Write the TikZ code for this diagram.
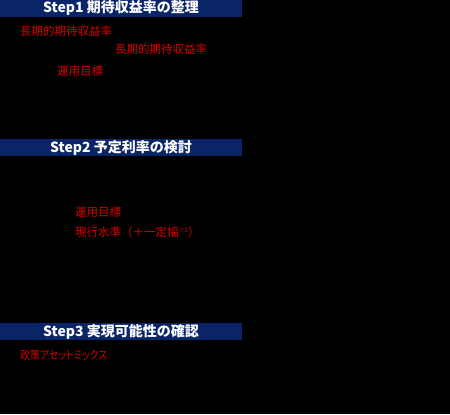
\documentclass[tikz,border=0pt]{standalone}
\usepackage{fontspec}
\newfontfamily\jp{Noto Sans CJK JP}
\newfontfamily\jpp[RawFeature=+palt]{Noto Sans CJK JP}
\definecolor{bannerblue}{RGB}{10,36,104}
\definecolor{textred}{RGB}{215,0,0}
\tikzset{
  banner/.style={fill=bannerblue, draw=none, inner sep=0pt, minimum width=242bp, minimum height=17bp, anchor=north west},
  bannertext/.style={text=white, font=\jp\bfseries\fontsize{14bp}{16bp}\selectfont, inner sep=0pt},
  redlabel/.style={text=textred, font=\jpp\fontsize{11.5bp}{13bp}\selectfont, inner sep=0pt, anchor=west}
}
\begin{document}
\begin{tikzpicture}[x=1bp, y=-1bp]
  \fill[black] (0,0) rectangle (450,414);
  \useasboundingbox (0,0) rectangle (450,414);
  % Step 1
  \node[banner] (b1) at (0,0) {};
  \node[bannertext] (t1) at (121,8) {Step1 期待収益率の整理};
  \node[redlabel] (l1) at (20,31.5) {長期的期待収益率};
  \node[redlabel] (l2) at (115,49.5) {長期的期待収益率};
  \node[redlabel] (l3) at (57,71.5) {運用目標};
  % Step 2
  \node[banner] (b2) at (0,139) {};
  \node[bannertext] (t2) at (121,147.5) {Step2 予定利率の検討};
  \node[redlabel] (l4) at (75,212) {運用目標};
  \node[redlabel, font=\jp\fontsize{11.5bp}{13bp}\selectfont] (l5) at (75,232) {現行水準（＋一定幅\raisebox{0.6ex}{\fontsize{6bp}{7bp}\selectfont ※2}）};
  % Step 3
  \node[banner] (b3) at (0,323) {};
  \node[bannertext] (t3) at (121,331.5) {Step3 実現可能性の確認};
  \node[redlabel] (l6) at (20,355) {\scalebox{0.86}[1]{政策アセットミックス}};
\end{tikzpicture}
\end{document}
